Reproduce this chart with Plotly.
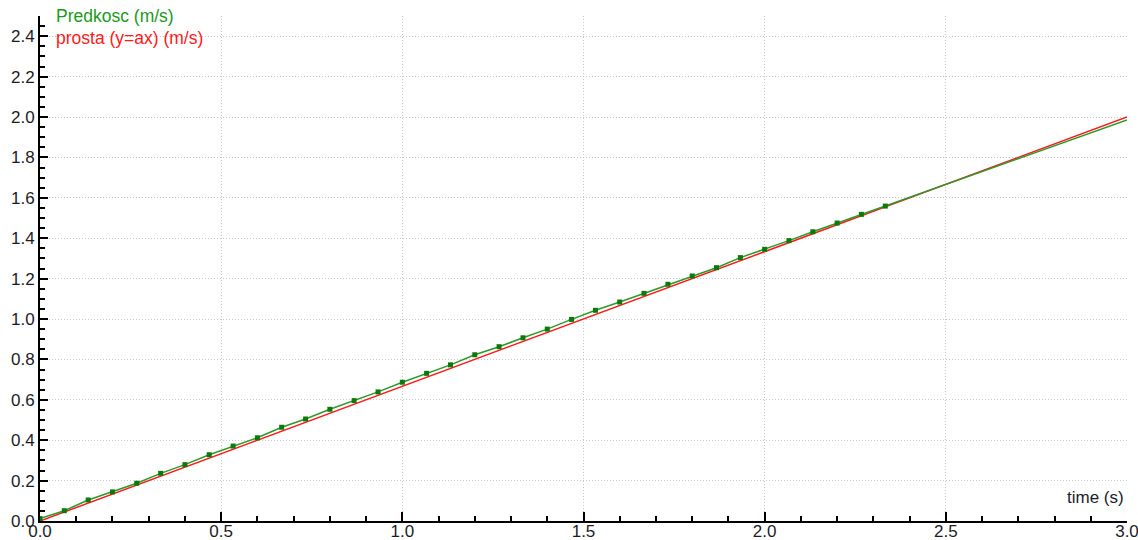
import plotly.graph_objects as go

# measured data (time in s, speed in m/s)
time_s = [0.0, 0.067, 0.133, 0.2, 0.267, 0.333, 0.4, 0.467, 0.533, 0.6,
          0.667, 0.733, 0.8, 0.867, 0.933, 1.0, 1.067, 1.133, 1.2,
          1.267, 1.333, 1.4, 1.467, 1.533, 1.6, 1.667, 1.733,
          1.8, 1.867, 1.933, 2.0, 2.067, 2.133, 2.2, 2.267, 2.333]
speed = [0.012, 0.051, 0.104, 0.144, 0.187, 0.236, 0.279, 0.328, 0.371, 0.412,
         0.464, 0.505, 0.553, 0.596, 0.639, 0.687, 0.731, 0.773, 0.823,
         0.863, 0.907, 0.950, 0.998, 1.043, 1.084, 1.127, 1.172,
         1.213, 1.254, 1.304, 1.345, 1.388, 1.432, 1.475, 1.518, 1.559]
# the green line continues past the last sample to the right edge
line_end_time = 3.0
line_end_speed = 1.985

# straight line y = a*x
slope_a = 0.6667
line_times = [0.0, 3.0]

x_ticks = [0.0, 0.5, 1.0, 1.5, 2.0, 2.5, 3.0]
y_ticks = [0.0, 0.2, 0.4, 0.6, 0.8, 1.0, 1.2, 1.4, 1.6, 1.8, 2.0, 2.2, 2.4]

label_green = "Predkosc (m/s)"
label_red = "prosta (y=ax) (m/s)"
x_title = "time (s)"

font_family = "Liberation Sans, Arial, sans-serif"
text_col = "#1c1c28"
grid_col = "#c8c8c8"
grid_dash = "1px,2px"

fig = go.Figure()
fig.add_trace(go.Scatter(
    x=line_times, y=[slope_a * t for t in line_times], mode="lines",
    line=dict(color="#ff1a1a", width=1.5), name=label_red, hoverinfo="skip"))
fig.add_trace(go.Scatter(
    x=time_s + [line_end_time], y=speed + [line_end_speed], mode="lines",
    line=dict(color="#2a9a2a", width=1.5), name=label_green, hoverinfo="skip"))
fig.add_trace(go.Scatter(
    x=time_s, y=speed, mode="markers",
    marker=dict(symbol="square", size=5, color="#0a7a0a"),
    name=label_green, hoverinfo="skip"))

fig.update_layout(
    width=1138, height=540,
    margin=dict(l=40, r=11, t=16, b=19),
    paper_bgcolor="white", plot_bgcolor="white",
    showlegend=False,
    font=dict(family=font_family, size=17, color=text_col),
    xaxis=dict(
        range=[0, 3.0], tickvals=x_ticks, ticktext=[f"{v:.1f}" for v in x_ticks],
        automargin=False, ticklabeloverflow="allow", ticklabelstandoff=-6,
        showgrid=True, gridcolor=grid_col, griddash=grid_dash, gridwidth=1,
        zeroline=False, showline=True, linecolor="black", linewidth=2,
        ticks="inside", ticklen=9, tickwidth=2, tickcolor="black",
        minor=dict(dtick=0.1, ticks="inside", ticklen=5, tickwidth=2,
                   tickcolor="black", showgrid=False),
        tickfont=dict(size=17, color=text_col), fixedrange=True),
    yaxis=dict(
        range=[0, 2.5], tickvals=y_ticks, ticktext=[f"{v:.1f}" for v in y_ticks],
        automargin=False, ticklabeloverflow="allow",
        showgrid=True, gridcolor=grid_col, griddash=grid_dash, gridwidth=1,
        zeroline=False, showline=True, linecolor="black", linewidth=2,
        ticks="inside", ticklen=8, tickwidth=2, tickcolor="black",
        minor=dict(dtick=0.05, ticks="inside", ticklen=5, tickwidth=2,
                   tickcolor="black", showgrid=False),
        tickfont=dict(size=17, color=text_col), fixedrange=True),
    annotations=[
        dict(text=label_green, xref="paper", yref="paper", x=0.013, y=1.0,
             xanchor="left", yanchor="middle", showarrow=False,
             font=dict(size=17.5, color="#1a9a1a")),
        dict(text=label_red, xref="paper", yref="paper", x=0.013, y=0.956,
             xanchor="left", yanchor="middle", showarrow=False,
             font=dict(size=17.5, color="#ff1a1a")),
        dict(text=x_title, xref="paper", yref="paper", x=0.999, y=0.047,
             xanchor="right", yanchor="middle", showarrow=False,
             font=dict(size=17, color=text_col)),
    ],
)

fig.write_html(
    "out.html",
    config={"displayModeBar": False},
    post_script="document.body.style.margin='0';document.body.style.overflow='hidden';",
)
